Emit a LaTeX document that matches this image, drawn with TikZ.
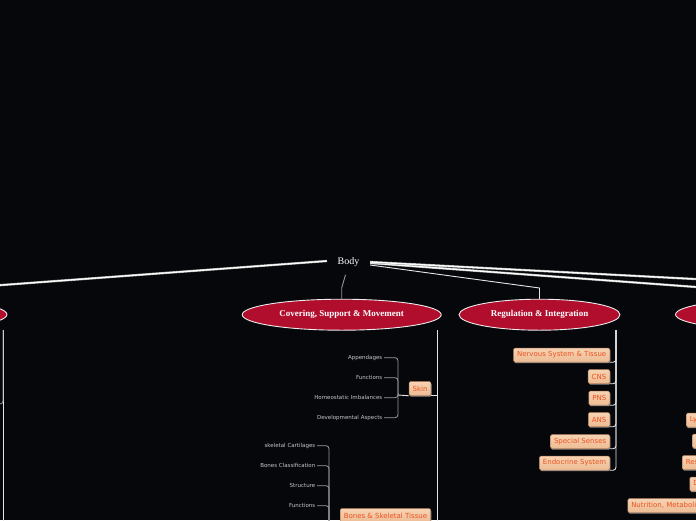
\documentclass[tikz,border=0pt]{standalone}
\usepackage{fontspec}
\setmainfont{Liberation Serif}
\newfontfamily\topicfont{DejaVu Sans}
\usepackage{tikz}
\usetikzlibrary{shapes.geometric, shadows, positioning}

\definecolor{nightbg}{HTML}{05070A}
\definecolor{crimson}{HTML}{B10D2D}
\definecolor{peach}{HTML}{EDBC94}
\definecolor{peachtop}{HTML}{F6D3B4}
\definecolor{peachline}{HTML}{B8865F}
\definecolor{peachtext}{HTML}{EE5220}
\definecolor{twiggray}{HTML}{9A9A9A}
\definecolor{leafgray}{HTML}{C8C8C8}

\tikzset{
  unit/.style={ellipse, draw=white!85!gray, line width=0.9pt, fill=crimson, text=white, font=\bfseries\fontsize{9}{10}\selectfont, minimum width=199pt, minimum height=31pt, inner sep=0pt},
  topic/.style={rectangle, rounded corners=1.5pt, draw=peachline, line width=0.5pt, top color=peachtop, bottom color=peach, text=peachtext, font=\topicfont\fontsize{7}{8}\selectfont, inner xsep=3.5pt, inner ysep=0pt, minimum height=14pt, drop shadow={shadow xshift=0.6pt, shadow yshift=-1.2pt, fill=gray!80, opacity=0.9}},
  leaf/.style={text=leafgray, font=\topicfont\fontsize{5.5}{6}\selectfont, inner sep=1.5pt, anchor=east},
  trunk/.style={draw=white, line width=1.3pt, preaction={draw=gray!70, line width=2.3pt}},
  limb/.style={draw=white!80!gray, line width=0.9pt},
  twig/.style={draw=twiggray, line width=0.8pt, rounded corners=3pt},
}

\begin{document}
\begin{tikzpicture}[x=1pt, y=-1pt]
    \fill[nightbg] (0,0) rectangle (696,520);
    \useasboundingbox (0,0) rectangle (696,520);
    \clip (0,0) rectangle (696,520);

    % root and the four units
    \node (body) at (348.5,262) [text=white, font=\fontsize{10}{12}\selectfont, inner xsep=10.5pt, inner ysep=8pt] {Body};
    \node (leftunit) at (-92.5,314.5) [unit] {};
    \node (cover) at (341.7,314.7) [unit] {Covering, Support \& Movement};
    \node (reg) at (539.5,314.7) [unit, minimum width=161pt] {Regulation \& Integration};
    \node (mainunit) at (775,314.5) [unit] {};

    \coordinate (lfork) at (-92.5,292);
    \coordinate (cfork) at (341.7,288);
    \coordinate (rfork) at (539.5,288);
    \coordinate (mfork) at (775,292.8);
    \coordinate (far) at (1000,295);

    \draw [trunk] ([yshift=1pt]body.west) -- (lfork) -- (leftunit.north);
    \draw [limb, draw=gray!85] ([xshift=-3pt]body.south) -- (cfork) -- (cover.north);
    \draw [limb] ([yshift=-3pt]body.east) -- (rfork) -- (reg.north);
    \draw [trunk] ([yshift=-1pt]body.east) -- (mfork) -- (mainunit.north);
    \draw [trunk] (body.east) -- (far);

    % bars under the units
    \coordinate (lbar) at (3,330);
    \coordinate (lbarend) at (3,530);
    \coordinate (lefttwig) at (-3,404);
    \coordinate (cbar) at (437,330);
    \coordinate (rbar) at (616,330);
    \coordinate (mbar) at (870.5,330);

    \draw [limb] (lbar) -- (lbarend);
    \draw [twig] (lbar) |- (lefttwig);

    % covering, support & movement
    \node (skin) at (420,388.5) [topic] {Skin};
    \node (bones) at (340,515.5) [topic, anchor=west] {Bones \& Skeletal Tissue};

    \draw [limb] (cbar) |- (skin.south east);
    \draw [limb] (cbar) |- (bones.south east);

    \node (append) at (384,357.7) [leaf] {Appendages};
    \node (skinfunc) at (384,377.7) [leaf] {Functions};
    \node (homeo) at (384,397.7) [leaf] {Homeostatic Imbalances};
    \node (devel) at (384,417.7) [leaf] {Developmental Aspects};

    \coordinate (skinfork) at (398,395);
    \draw [limb] (skin.south west) -- (skinfork);
    \draw [twig] (skinfork) |- (append.east);
    \draw [twig] (skinfork) |- (skinfunc.east);
    \draw [twig] (skinfork) |- (homeo.east);
    \draw [twig] (skinfork) |- (devel.east);

    \node (cartil) at (317,445.7) [leaf] {skeletal Cartilages};
    \node (boneclass) at (317,465.7) [leaf] {Bones Classification};
    \node (struct) at (317,485.7) [leaf] {Structure};
    \node (bonefunc) at (317,505.7) [leaf] {Functions};

    \coordinate (bonefork) at (329,522.5);
    \draw [limb] (bones.south west) -- (bonefork);
    \draw [twig] (bonefork) |- (cartil.east);
    \draw [twig] (bonefork) |- (boneclass.east);
    \draw [twig] (bonefork) |- (struct.east);
    \draw [twig] (bonefork) |- (bonefunc.east);

    % regulation & integration
    \node (nervous) at (610,355) [topic, anchor=east] {Nervous System \& Tissue};
    \node (cns) at (610,376.5) [topic, anchor=east] {CNS};
    \node (pns) at (610,398) [topic, anchor=east] {PNS};
    \node (ans) at (610,419.5) [topic, anchor=east] {ANS};
    \node (senses) at (610,441.5) [topic, anchor=east] {Special Senses};
    \node (endo) at (610,463) [topic, anchor=east] {Endocrine System};

    \draw [limb, rounded corners=3pt] (rbar) |- (nervous.south east);
    \draw [limb, rounded corners=3pt] (rbar) |- (cns.south east);
    \draw [limb, rounded corners=3pt] (rbar) |- (pns.south east);
    \draw [limb, rounded corners=3pt] (rbar) |- (ans.south east);
    \draw [limb, rounded corners=3pt] (rbar) |- (senses.south east);
    \draw [limb, rounded corners=3pt] (rbar) |- (endo.south east);

    % right unit, mostly off the page
    \node (lymph) at (686,420) [topic, anchor=west] {Lymphatic System};
    \node (immune) at (692,441) [topic, anchor=west] {Immune System};
    \node (resp) at (682,462.5) [topic, anchor=west] {Respiratory System};
    \node (digest) at (689.5,484) [topic, anchor=west] {Digestive System};
    \node (nutri) at (627.5,505.5) [topic, anchor=west] {Nutrition, Metabolism \& Energy Balance};

    \draw [limb, rounded corners=3pt] (mbar) |- (lymph.south east);
    \draw [limb, rounded corners=3pt] (mbar) |- (immune.south east);
    \draw [limb, rounded corners=3pt] (mbar) |- (resp.south east);
    \draw [limb, rounded corners=3pt] (mbar) |- (digest.south east);
    \draw [limb, rounded corners=3pt] (mbar) |- (nutri.south east);
\end{tikzpicture}
\end{document}
